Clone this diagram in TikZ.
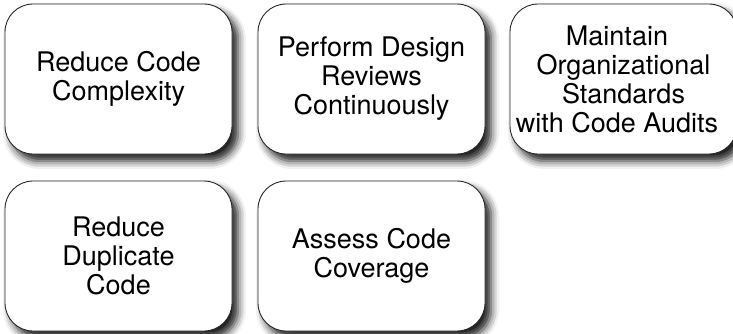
\documentclass[tikz,border=0pt]{standalone}
\usepackage{fontspec}
\setmainfont{TeX Gyre Heros}
\usetikzlibrary{shadows.blur}
\tikzset{
  goalbox/.style={draw=black!85, line width=0.9pt, fill=white,
    rounded corners=28pt, minimum width=227pt, minimum height=150pt,
    align=center, inner sep=0pt, font=\fontsize{27}{29}\selectfont,
    blur shadow={shadow xshift=6pt, shadow yshift=-7pt,
      shadow blur radius=8pt, shadow opacity=90}}
}
\begin{document}
\begin{tikzpicture}[x=1pt,y=1pt]
\useasboundingbox (0,0) rectangle (733,-333);
\def\rowa{-79}
\def\rowb{-256}
\def\sh{\hspace*{13pt}}

% top row
\node[goalbox] (complexity) at (118.5,\rowa) {Reduce Code\\Complexity};
\node[goalbox] (reviews) at (371.5,\rowa) {Perform Design\\Reviews\\Continuously};
\node[goalbox] (audits) at (623.5,\rowa) {Maintain\sh\\Organizational\sh\\Standards\sh\\with Code Audits\sh};

% bottom row
\node[goalbox] (duplicate) at (118.5,\rowb) {Reduce\\Duplicate\\Code};
\node[goalbox] (coverage) at (371.5,\rowb) {Assess Code\\Coverage};
\end{tikzpicture}
\end{document}
